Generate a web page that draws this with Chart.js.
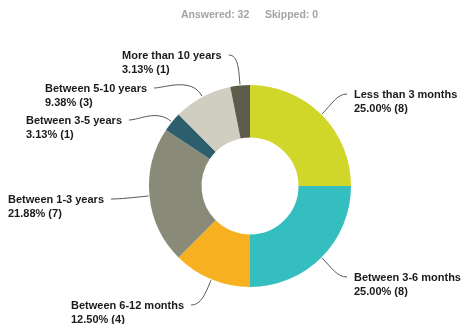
<!DOCTYPE html>
<html>
<head>
<meta charset="utf-8">
<script src="https://cdn.jsdelivr.net/npm/chart.js@4/dist/chart.umd.min.js"></script>
<style>
  html, body { margin: 0; padding: 0; background: #fff; }
  #wrap { width: 463px; height: 324px; }
</style>
</head>
<body>
<div id="wrap"><canvas id="tenureChart" width="463" height="324"></canvas></div>
<script>
// survey answers
const categories = ['Less than 3 months', 'Between 3-6 months', 'Between 6-12 months',
  'Between 1-3 years', 'Between 3-5 years', 'Between 5-10 years', 'More than 10 years'];
const counts = [8, 8, 4, 7, 1, 3, 1];
const answered = 32;
const skipped = 0;

const sliceColors = ['#d1d62b', '#35bec0', '#f6b020', '#8a8a78', '#2c5f6b', '#d0cec0', '#5d5b4a'];

// where each callout text sits (left edge, first baseline) and which side of the ring it is on
const calloutPos = [
  { x: 354, y: 98, side: 'right' },
  { x: 354, y: 281, side: 'right' },
  { x: 71, y: 309, side: 'left' },
  { x: 8, y: 203, side: 'left' },
  { x: 26, y: 124, side: 'left' },
  { x: 45, y: 92, side: 'left' },
  { x: 122, y: 59, side: 'left' }
];

const total = counts.reduce((a, b) => a + b, 0);

// callout labels with leader lines
const calloutPlugin = {
  id: 'callouts',
  afterDatasetsDraw(chart) {
    const ctx = chart.ctx;
    const arcs = chart.getDatasetMeta(0).data;
    ctx.save();
    ctx.font = 'bold 11px "Liberation Sans", Arial, sans-serif';
    ctx.textBaseline = 'alphabetic';
    ctx.textAlign = 'left';
    arcs.forEach((arc, i) => {
      const p = arc.getProps(['x', 'y', 'startAngle', 'endAngle', 'outerRadius'], true);
      const mid = (p.startAngle + p.endAngle) / 2;
      const r = p.outerRadius + 1;
      const sx = p.x + Math.cos(mid) * r;
      const sy = p.y + Math.sin(mid) * r;
      const pos = calloutPos[i];
      const line1 = categories[i];
      const line2 = (counts[i] / total * 100).toFixed(2) + '% (' + counts[i] + ')';

      let ex, dir;
      if (pos.side === 'right') {
        ex = pos.x - 7;
        dir = 1;
      } else {
        ex = pos.x + ctx.measureText(line1).width + 7;
        dir = -1;
      }
      const ey = pos.y - 4;

      const d = Math.hypot(ex - sx, ey - sy);
      ctx.beginPath();
      ctx.moveTo(sx, sy);
      ctx.bezierCurveTo(
        sx + Math.cos(mid) * d * 0.45, sy + Math.sin(mid) * d * 0.45,
        ex - dir * Math.min(10, d * 0.4), ey,
        ex, ey);
      ctx.strokeStyle = '#555';
      ctx.lineWidth = 1;
      ctx.stroke();

      ctx.fillStyle = '#1a1a1a';
      ctx.fillText(line1, pos.x, pos.y);
      ctx.fillText(line2, pos.x, pos.y + 14);
    });

    // response summary above the chart
    ctx.font = 'bold 10.5px "Liberation Sans", Arial, sans-serif';
    ctx.fillStyle = '#a3a3a3';
    ctx.fillText('Answered: ' + answered, 181, 18);
    ctx.fillText('Skipped: ' + skipped, 265, 18);
    ctx.restore();
  }
};

new Chart(document.getElementById('tenureChart').getContext('2d'), {
  type: 'doughnut',
  data: {
    labels: categories,
    datasets: [{
      data: counts,
      backgroundColor: sliceColors,
      borderWidth: 0
    }]
  },
  options: {
    responsive: false,
    animation: false,
    cutout: '48%',
    layout: { padding: { left: 149, right: 112, top: 85, bottom: 37 } },
    plugins: {
      legend: { display: false },
      tooltip: { enabled: false }
    }
  },
  plugins: [calloutPlugin]
});
</script>
</body>
</html>
